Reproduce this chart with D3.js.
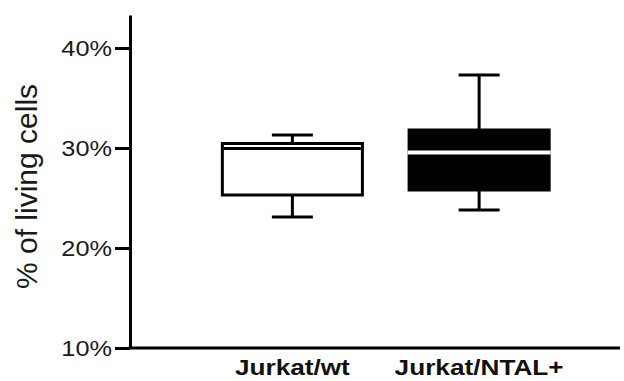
<!DOCTYPE html>
<html>
<head>
<meta charset="utf-8">
<script src="https://cdn.jsdelivr.net/npm/d3@7"></script>
<style>
  body { margin: 0; background: #fff; }
  text { font-family: "Liberation Sans", Arial, sans-serif; }
</style>
</head>
<body>
<div id="chart-area"></div>
<script>
const canvas_width = 624;
const canvas_height = 381;

// data (% of living cells)
const categories = ['Jurkat/wt', 'Jurkat/NTAL+'];
const mins    = [23.1, 23.8];
const q1s     = [25.3, 25.8];
const medians = [29.95, 29.55];
const q3s     = [30.45, 31.8];
const maxs    = [31.3, 37.3];
const fills   = ['#ffffff', '#000000'];
const yTicks  = [10, 20, 30, 40];

const data = categories.map((c, i) => ({
    name: c, min: mins[i], q1: q1s[i], median: medians[i], q3: q3s[i], max: maxs[i], fill: fills[i]
}));

const plot = { left: 130, right: 620, top: 15, bottom: 348 };

let svg = d3.select('#chart-area').append('svg')
    .attr('width', canvas_width)
    .attr('height', canvas_height);

let x = d3.scaleBand()
    .domain(categories)
    .range([199, 572.5])
    .paddingInner(0.25)
    .paddingOuter(0.125);

let y = d3.scaleLinear()
    .domain([10, 43.3])
    .range([plot.bottom, plot.top]);

const capWidth = 41;

// y axis
let leftAxis = d3.axisLeft(y)
    .tickValues(yTicks)
    .tickFormat((d) => d + '%')
    .tickSize(15)
    .tickSizeOuter(0)
    .tickPadding(3);

let yg = svg.append('g')
    .attr('transform', `translate(${plot.left}, 0)`)
    .call(leftAxis);
yg.select('.domain').attr('stroke', '#000').attr('stroke-width', 3);
yg.selectAll('.tick line').attr('stroke', '#000').attr('stroke-width', 3);
yg.selectAll('.tick text')
    .attr('font-size', '22px')
    .attr('fill', '#1a1a1a')
    .attr('font-family', '"Liberation Sans", Arial, sans-serif')
    .each(function() {
        const w = this.getComputedTextLength();
        d3.select(this).attr('textLength', w * 1.15).attr('lengthAdjust', 'spacingAndGlyphs');
    });

// x axis line
svg.append('line')
    .attr('x1', plot.left - 1.5)
    .attr('x2', plot.right)
    .attr('y1', y(10))
    .attr('y2', y(10))
    .attr('stroke', '#000')
    .attr('stroke-width', 3);

// boxes
let boxes = svg.selectAll('g.box').data(data).enter().append('g').attr('class', 'box');

boxes.append('line')
    .attr('x1', (d) => x(d.name) + x.bandwidth() / 2)
    .attr('x2', (d) => x(d.name) + x.bandwidth() / 2)
    .attr('y1', (d) => y(d.max))
    .attr('y2', (d) => y(d.q3))
    .attr('stroke', '#000').attr('stroke-width', 3);

boxes.append('line')
    .attr('x1', (d) => x(d.name) + x.bandwidth() / 2)
    .attr('x2', (d) => x(d.name) + x.bandwidth() / 2)
    .attr('y1', (d) => y(d.q1))
    .attr('y2', (d) => y(d.min))
    .attr('stroke', '#000').attr('stroke-width', 3);

['max', 'min'].forEach((k) => {
    boxes.append('line')
        .attr('x1', (d) => x(d.name) + x.bandwidth() / 2 - capWidth / 2)
        .attr('x2', (d) => x(d.name) + x.bandwidth() / 2 + capWidth / 2)
        .attr('y1', (d) => y(d[k]))
        .attr('y2', (d) => y(d[k]))
        .attr('stroke', '#000').attr('stroke-width', 3);
});

boxes.append('rect')
    .attr('x', (d) => x(d.name))
    .attr('y', (d) => y(d.q3))
    .attr('width', x.bandwidth())
    .attr('height', (d) => y(d.q1) - y(d.q3))
    .attr('fill', (d) => d.fill)
    .attr('stroke', '#000')
    .attr('stroke-width', 3);

// median: white bar cuts through the filled box, black line in the open one
boxes.append('line')
    .attr('x1', (d) => x(d.name) + (d.fill === '#000000' ? -1.5 : 1.5))
    .attr('x2', (d) => x(d.name) + x.bandwidth() + (d.fill === '#000000' ? 1.5 : -1.5))
    .attr('y1', (d) => y(d.median))
    .attr('y2', (d) => y(d.median))
    .attr('stroke', (d) => d.fill === '#000000' ? '#fff' : '#000')
    .attr('stroke-width', (d) => d.fill === '#000000' ? 4 : 3);

// category labels
svg.selectAll('text.cat').data(categories).enter().append('text')
    .attr('class', 'cat')
    .attr('x', (d) => x(d) + x.bandwidth() / 2)
    .attr('y', 375)
    .attr('text-anchor', 'middle')
    .attr('font-size', '22px')
    .attr('font-weight', 'bold')
    .attr('fill', '#111')
    .text((d) => d)
    .each(function() {
        const w = this.getComputedTextLength();
        d3.select(this).attr('textLength', w * 1.19).attr('lengthAdjust', 'spacingAndGlyphs');
    });

// y axis title
svg.append('text')
    .attr('x', -186.5)
    .attr('y', 36.5)
    .attr('transform', 'rotate(-90)')
    .attr('text-anchor', 'middle')
    .attr('font-size', '30px')
    .attr('fill', '#1a1a1a')
    .text('% of living cells');
</script>
</body>
</html>
